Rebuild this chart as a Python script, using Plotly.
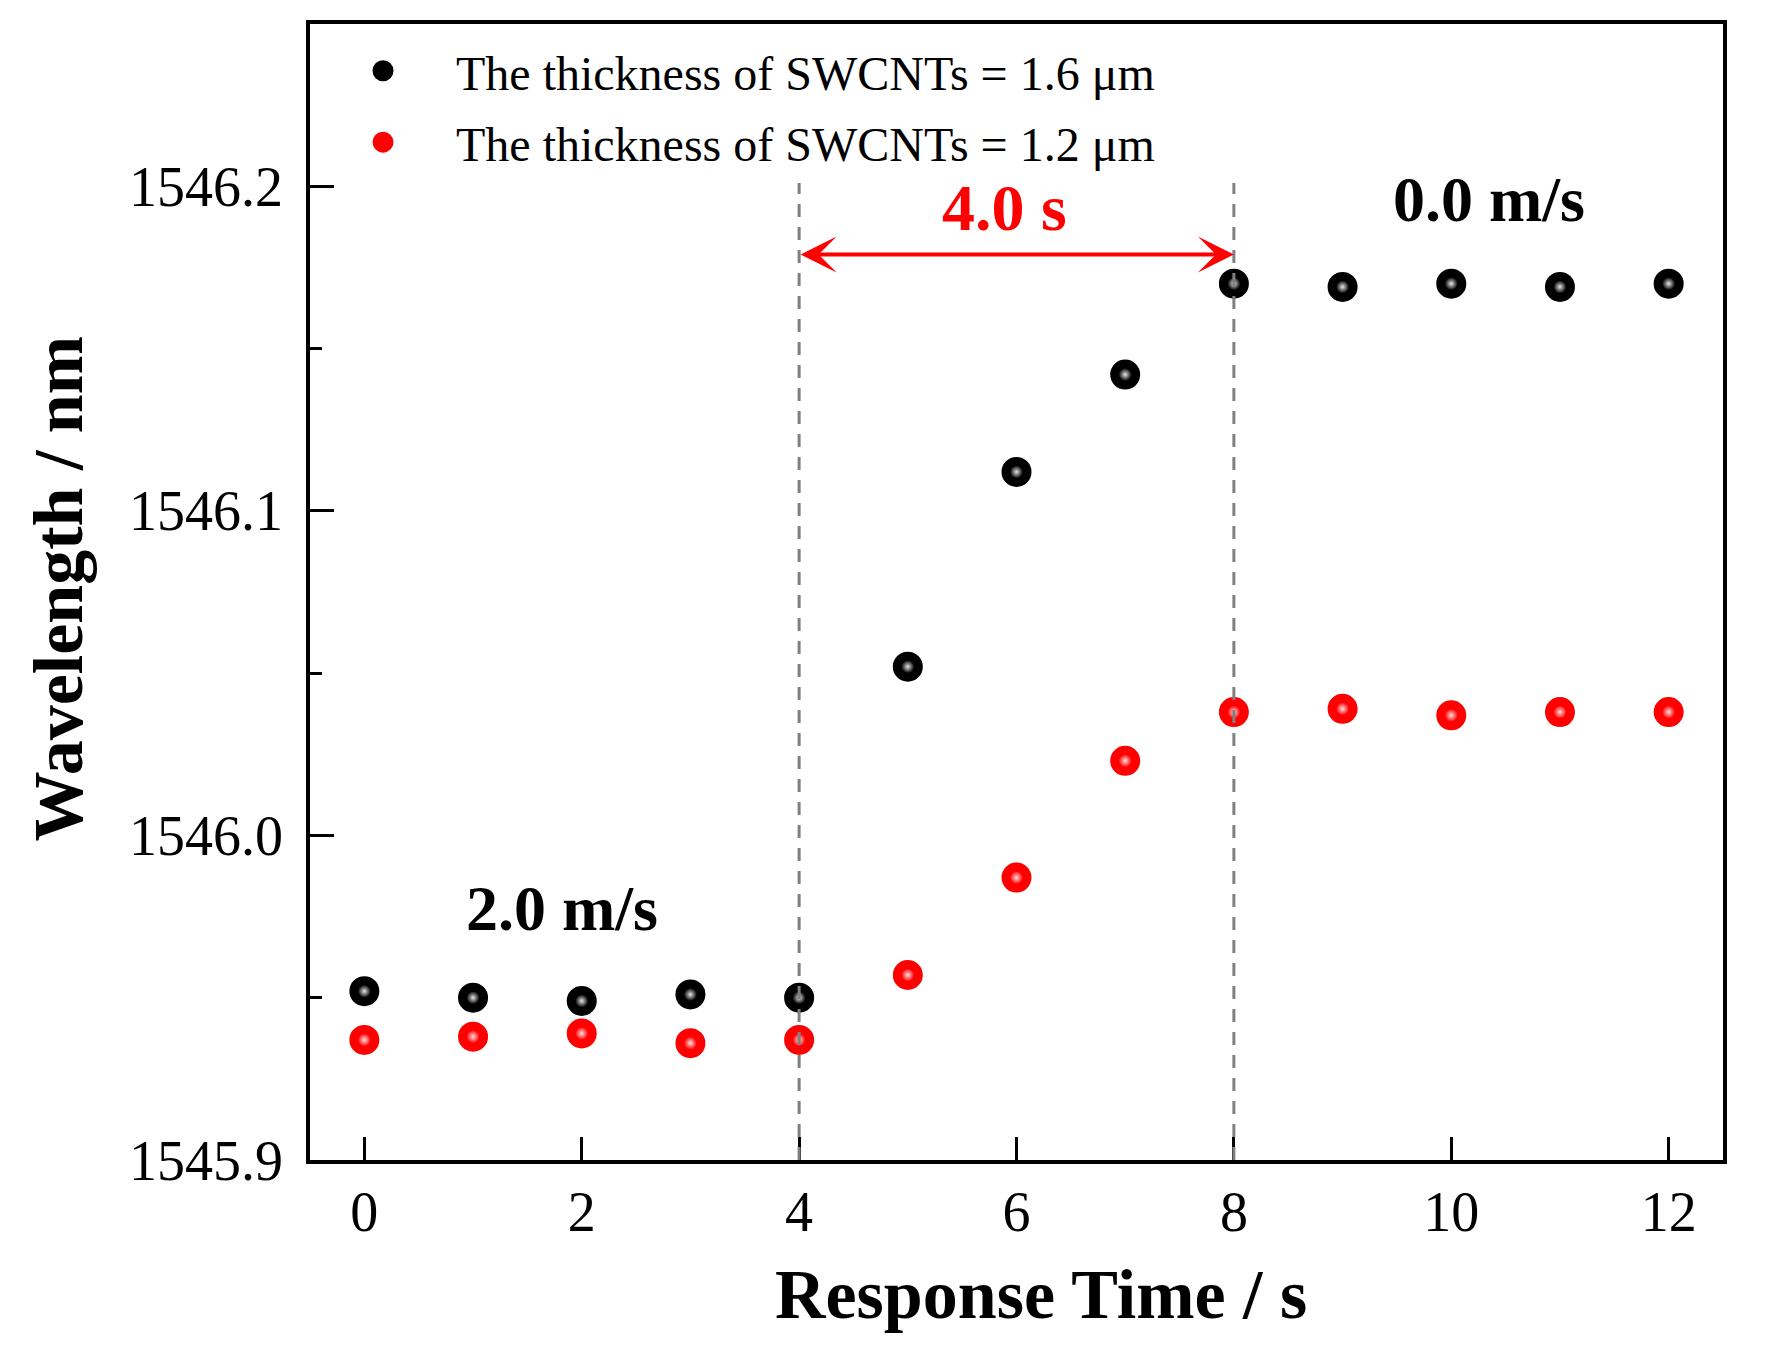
import plotly.graph_objects as go

# ---- data ----
time_s = [0, 1, 2, 3, 4, 5, 6, 7, 8, 9, 10, 11, 12]
wl_16um = [1545.952, 1545.950, 1545.949, 1545.951, 1545.950, 1546.052, 1546.112,
           1546.142, 1546.170, 1546.169, 1546.170, 1546.169, 1546.170]
wl_12um = [1545.937, 1545.938, 1545.939, 1545.936, 1545.937, 1545.957, 1545.987,
           1546.023, 1546.038, 1546.039, 1546.037, 1546.038, 1546.038]
series_names = ["The thickness of SWCNTs = 1.6 μm", "The thickness of SWCNTs = 1.2 μm"]
x_ticks = [0, 2, 4, 6, 8, 10, 12]
y_ticks = [1545.9, 1546.0, 1546.1, 1546.2]
x_range = [-0.5, 12.5]
y_range = [1545.9, 1546.25]
resp_start, resp_end = 4, 8
resp_label = "4.0 s"
speed_before = "2.0 m/s"
speed_after = "0.0 m/s"

FONT = "Liberation Serif, Times New Roman, serif"

fig = go.Figure()

for i, (ys, col, hl, name) in enumerate([(wl_16um, "#000000", "#e6e6e6", series_names[0]),
                                         (wl_12um, "#ff0000", "#ffe0e0", series_names[1])]):
    fig.add_trace(go.Scatter(
        x=time_s, y=ys, mode="markers", name=name, legendgroup=f"g{i}",
        marker=dict(size=25, color=col, line=dict(color=col, width=5)),
    ))
    fig.add_trace(go.Scatter(
        x=time_s, y=ys, mode="markers", showlegend=False, hoverinfo="skip",
        legendgroup=f"g{i}",
        marker=dict(size=13, color=col, line=dict(width=0),
                    gradient=dict(type="radial", color=hl)),
    ))

# dashed guide lines
for xv in (resp_start, resp_end):
    fig.add_shape(type="line", xref="x", yref="y", x0=xv, x1=xv,
                  y0=y_range[0], y1=1546.201,
                  line=dict(color="#808080", width=3, dash="13px,10px"))

# double arrow
fig.add_annotation(x=resp_end, y=1546.179, ax=resp_start, ay=1546.179,
                   xref="x", yref="y", axref="x", ayref="y", text="",
                   showarrow=True, arrowhead=3, startarrowhead=3,
                   arrowside="end+start", arrowwidth=4, arrowsize=1.5,
                   startarrowsize=1.5, arrowcolor="#ff0000", standoff=0, startstandoff=0)

fig.add_annotation(x=5.89, y=1546.1936, xref="x", yref="y", text="<b>" + resp_label + "</b>",
                   showarrow=False, font=dict(family=FONT, size=66, color="#ff0000"))
fig.add_annotation(x=10.35, y=1546.196, xref="x", yref="y", text="<b>" + speed_after + "</b>",
                   showarrow=False, font=dict(family=FONT, size=64, color="#000000"))
fig.add_annotation(x=1.82, y=1545.9775, xref="x", yref="y", text="<b>" + speed_before + "</b>",
                   showarrow=False, font=dict(family=FONT, size=64, color="#000000"))

# axis titles
fig.add_annotation(x=0.517, y=-0.118, xref="paper", yref="paper", text="<b>Response Time / s</b>",
                   showarrow=False, xanchor="center", yanchor="middle",
                   font=dict(family=FONT, size=70, color="#000000"))
fig.add_annotation(x=-0.178, y=0.5035, xref="paper", yref="paper", text="<b>Wavelength / nm</b>",
                   showarrow=False, textangle=-90, xanchor="center", yanchor="middle",
                   font=dict(family=FONT, size=70, color="#000000"))

fig.update_layout(
    width=1775, height=1360,
    margin=dict(l=302, r=60, t=16, b=208, pad=0),
    paper_bgcolor="white", plot_bgcolor="white",
    font=dict(family=FONT, size=56, color="#000000"),
    showlegend=True,
    legend=dict(x=0.0, y=0.992, xanchor="left", yanchor="top",
                bgcolor="rgba(0,0,0,0)", borderwidth=0,
                font=dict(family=FONT, size=48, color="#000000"),
                itemwidth=136, traceorder="grouped", tracegroupgap=6),
)
fig.update_xaxes(
    range=x_range, tickmode="array", tickvals=x_ticks, ticktext=[str(v) for v in x_ticks],
    showgrid=False, zeroline=False,
    showline=True, linecolor="black", linewidth=3.5, mirror=True,
    ticks="inside", ticklen=23, tickwidth=3, tickcolor="black",
    tickfont=dict(family=FONT, size=56, color="black"),
)
fig.update_yaxes(
    range=y_range, tickmode="array", tickvals=y_ticks, ticktext=[f"{v:.1f}" for v in y_ticks],
    showgrid=False, zeroline=False,
    showline=True, linecolor="black", linewidth=3.5, mirror=True,
    ticks="inside", ticklen=24, tickwidth=3, tickcolor="black",
    ticklabelstandoff=12,
    minor=dict(ticks="inside", ticklen=12, tickwidth=3, tickcolor="black", dtick=0.05,
               tick0=1545.9, showgrid=False),
    tickfont=dict(family=FONT, size=56, color="black"),
)

fig.write_html("out.html")
